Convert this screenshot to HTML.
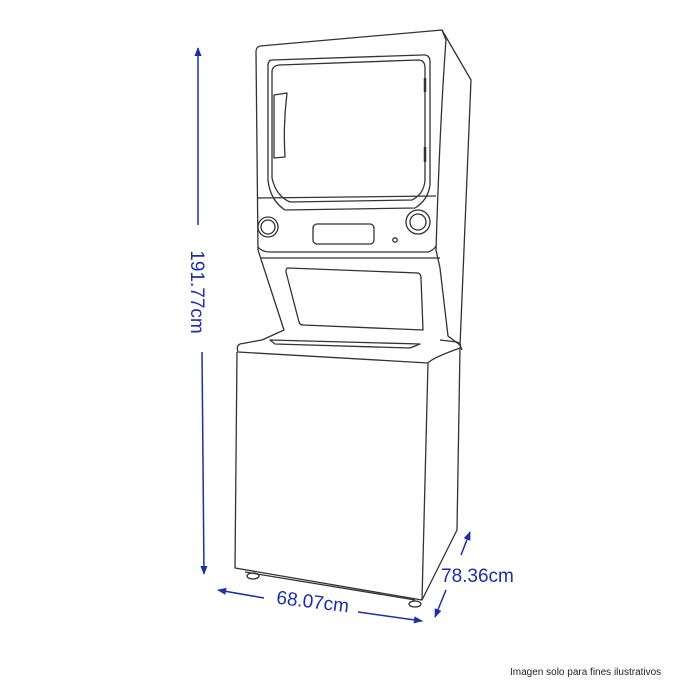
<!DOCTYPE html>
<html><head><meta charset="utf-8"><style>
html,body{margin:0;padding:0;background:#fff;}
svg{display:block;}
</style></head><body>
<svg width="700" height="700" viewBox="0 0 700 700" xmlns="http://www.w3.org/2000/svg">
<defs>
<marker id="ah" viewBox="0 0 10 10" refX="9" refY="5" markerWidth="6" markerHeight="6" orient="auto-start-reverse">
<path d="M0,1 L10,5 L0,9 z" fill="#1a2fa8"/>
</marker>
</defs>
<g fill="none" stroke="#333" stroke-width="1.3" stroke-linejoin="round">
<!-- top cabinet front -->
<path d="M260,46 L442,30 L446,40 Q440,120 436,250 L440,268 L448,336 L460,345 L462,350"/>
<path d="M260,46 Q256,47 256,52 L258,250 L284,330 L262,340 L240,344"/>
<!-- side -->
<path d="M442,30 L471,80 L460,346"/>
<!-- door -->
<path d="M272,60 Q268,60 268,66 L268,180 Q270,200 285,210 L415,208 Q428,200 430,185 L430,62 Q430,54 422,55 Z"/>
<path d="M279,65 Q272,66 272,72 L272,178 Q276,196 290,202 L412,200 Q424,194 425,180 L425,68 Q425,60 418,60 Z"/>
<path d="M274,95 L287,93 Q283,125 285,157 L274,158 Z"/>
<line x1="425" y1="78" x2="425" y2="92" stroke-width="2.5"/>
<line x1="425" y1="147" x2="425" y2="162" stroke-width="2.5"/>
<!-- control panel -->
<path d="M258,198 L436,196"/>
<path d="M258,247 Q262,252 270,252 L428,252 Q434,250 436,246"/>
<circle cx="268" cy="227" r="10"/><circle cx="268" cy="227" r="7"/>
<circle cx="418" cy="222" r="12"/><circle cx="418" cy="222" r="8"/>
<rect x="313" y="224" width="61" height="20" rx="4"/>
<circle cx="395" cy="240" r="2.2"/>
<path d="M260,258 L440,258"/>
<!-- window -->
<path d="M288,268 L418,273 Q421,274 421,278 L423,330 L303,325 Q300,325 299,322 L286,272 Q286,268 288,268 Z"/>
<!-- washer top -->
<path d="M240,344 Q236,346 238,352 L428,363 Q432,358 460,348 Q462,344 457,342 L440,340"/>
<path d="M270,340 L420,344 L410,348 L275,344 Z"/>
<!-- washer body -->
<path d="M237,352 L235,568 L422,600 L428,363"/>
<path d="M460,348 L457,530 L422,600"/>
<path d="M245,572 L415,600"/>
<ellipse cx="253" cy="576" rx="6" ry="3"/>
<ellipse cx="415" cy="604" rx="6" ry="3"/>
</g>
<g stroke="#1a2fa8" stroke-width="1.5" fill="none">
<line x1="198" y1="225" x2="198" y2="48" marker-end="url(#ah)"/>
<line x1="202" y1="352" x2="204" y2="574" marker-end="url(#ah)"/>
<line x1="264" y1="598" x2="218" y2="590" marker-end="url(#ah)"/>
<line x1="358" y1="612" x2="422" y2="621" marker-end="url(#ah)"/>
<line x1="461" y1="555" x2="470" y2="532" marker-end="url(#ah)"/>
<line x1="446" y1="590" x2="435" y2="617" marker-end="url(#ah)"/>
</g>
<g font-family="Liberation Sans, sans-serif" fill="#1a2fa8" font-size="19">
<text transform="translate(191,292) rotate(90)" text-anchor="middle">191.77cm</text>
<text transform="translate(312,608) rotate(7)" text-anchor="middle">68.07cm</text>
<text x="441" y="582">78.36cm</text>
</g>
<text x="510" y="675" font-family="Liberation Sans, sans-serif" font-size="10" fill="#222">Imagen  solo para fines ilustrativos</text>
</svg>
</body></html>
